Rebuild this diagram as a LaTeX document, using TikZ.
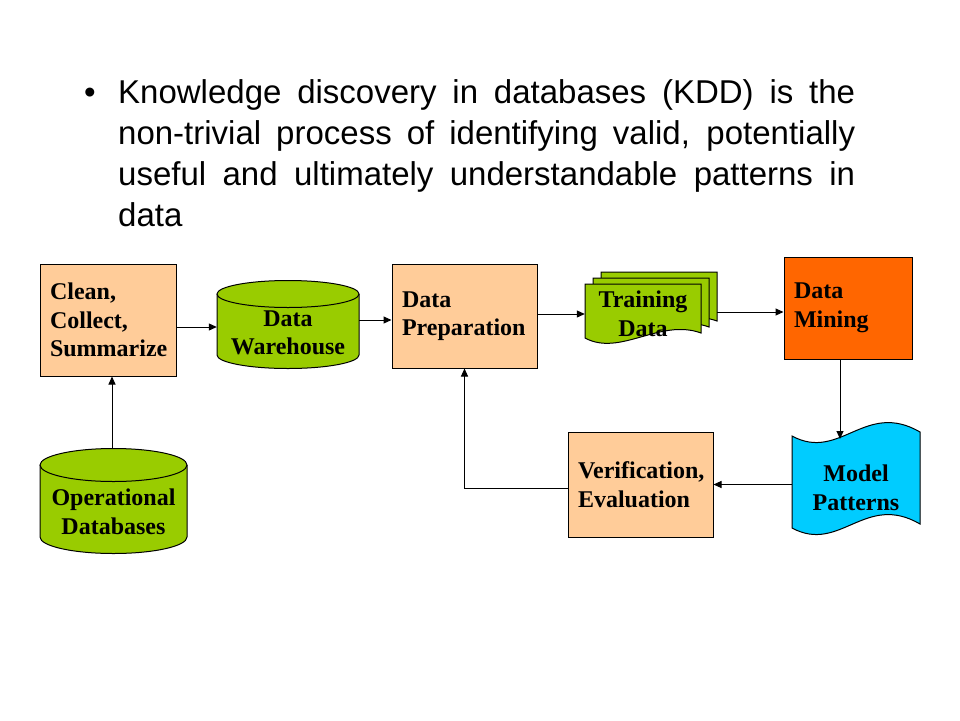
\documentclass[tikz,border=0pt]{standalone}
\usepackage{fontspec}
\setmainfont{Liberation Serif}
\newfontfamily\slidefont{Liberation Sans}
\usetikzlibrary{arrows.meta}

\definecolor{peach}{HTML}{FFCC99}
\definecolor{limegreen}{HTML}{99CC00}
\definecolor{minedorange}{HTML}{FF6600}
\definecolor{patterncyan}{HTML}{00CCFF}

\tikzset{
  stagebox/.style={draw, line width=1pt, fill=peach, align=left, inner xsep=10pt, inner ysep=0pt,
    font=\fontsize{24}{28.5}\selectfont\bfseries},
  shapetext/.style={align=center, inner sep=0pt, font=\fontsize{24}{28.5}\selectfont\bfseries},
  drum/.style={draw, line width=1pt, fill=limegreen},
  docshape/.style={draw, line width=1pt, fill=limegreen},
  tapeshape/.style={draw, line width=1pt, fill=patterncyan},
  arr/.style={-{Triangle[length=8pt,width=7pt]}, line width=1pt},
  bodytext/.style={font=\slidefont\fontsize{33}{41}\selectfont, inner sep=0pt}
}

\begin{document}
\begin{tikzpicture}[x=1pt, y=-1pt]
                \fill[white] (0,0) rectangle (960,720);
                \useasboundingbox (0,0) rectangle (960,720);

                % bullet text
                \node[bodytext, anchor=base] (dot) at (90,103) {\textbullet};
                \node[bodytext, anchor=base west, align=left] (kdd) at (118,226) {\makebox[737pt][s]{Knowledge discovery in databases (KDD) is the}\\
                        \makebox[737pt][s]{non-trivial process of identifying valid, potentially}\\
                        \makebox[737pt][s]{useful and ultimately understandable patterns in}\\
                        data};

                % drums
                \filldraw[drum] (217,294) -- (217,355) arc[start angle=180, end angle=0, x radius=71, y radius=13.5] -- (359,294);
                \filldraw[drum] (288,294) ellipse [x radius=71, y radius=13.5];
                \filldraw[drum] (40,465) -- (40,537) arc[start angle=180, end angle=0, x radius=73.5, y radius=16.5] -- (187,465);
                \filldraw[drum] (113.5,465) ellipse [x radius=73.5, y radius=16.5];

                % stacked training sets
                \foreach \d in {16,8,0}
                    \filldraw[docshape] (585+\d,284-0.75*\d) -- (701+\d,284-0.75*\d) -- (701+\d,333-0.75*\d)
                        .. controls (660+\d,318-0.75*\d) and (620+\d,357-0.75*\d) .. (585+\d,338-0.75*\d) -- cycle;

                % punched tape
                \filldraw[tapeshape] (792,436) .. controls (840,462) and (865,400) .. (920,432) -- (920,524)
                    .. controls (865,492) and (840,554) .. (792,528) -- cycle;

                \node[stagebox, text width=116pt, minimum height=112pt] (clean) at (108,320) {Clean,\\Collect,\\Summarize};
                \node[shapetext, minimum width=142pt] (dw) at (288,333) {Data\\Warehouse};
                \node[stagebox, text width=125pt, minimum height=104pt] (dprep) at (464.5,316) {Data\\Preparation};
                \node[shapetext, minimum width=116pt] (train) at (643,314) {Training\\Data};
                \node[stagebox, fill=minedorange, text width=108pt, minimum height=102pt] (mining) at (848,308) {Data\\Mining};
                \node[shapetext, minimum width=128pt] (model) at (856,488) {Model\\Patterns};
                \node[stagebox, text width=125pt, minimum height=105pt] (verif) at (640.5,484.5) {Verification,\\Evaluation};
                \node[shapetext, minimum width=147pt] (opdb) at (113.5,512) {Operational\\Databases};

                \coordinate (trainback) at (717,312);
                \coordinate (modeltop) at (840,439);
                \coordinate (opdbtop) at (112,448);

                \draw[arr] ([yshift=-7pt]clean.east) -- ([yshift=-7pt]clean.east -| dw.west);
                \draw[arr] ([yshift=-4pt]dprep.west -| dw.east) -- ([yshift=-4pt]dprep.west);
                \draw[arr] (dprep.east |- train.west) -- (train.west);
                \draw[arr] (trainback) -- (trainback -| mining.west);
                \draw[arr] (mining.south -| modeltop) -- (modeltop);
                \draw[arr] (model.west |- verif.east) -- (verif.east);
                \draw[arr] ([yshift=-3.5pt]verif.west) -| (dprep.south);
                \draw[arr] (opdbtop) -- (opdbtop |- clean.south);
            \end{tikzpicture}
\end{document}
